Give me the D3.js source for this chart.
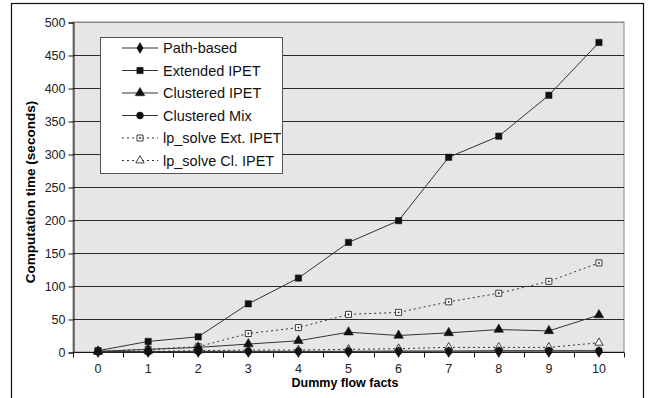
<!DOCTYPE html>
<html>
<head>
<meta charset="utf-8">
<script src="https://cdn.jsdelivr.net/npm/d3@7"></script>
<style>
	body { margin: 0; background: #fff; }
	text { font-family: "Liberation Sans", Arial, Helvetica, sans-serif; }
</style>
</head>
<body>
<svg id="chart" width="650" height="398"></svg>
<script>
// Data
const categories = ["0", "1", "2", "3", "4", "5", "6", "7", "8", "9", "10"];
const pathBased = [0, 0, 0, 0, 0, 0, 0, 0, 0, 0, 0];
const extendedIpet = [2, 16, 23, 73, 112, 166, 199, 295, 327, 389, 469];
const clusteredIpet = [1, 4, 7, 12, 17, 30, 25, 29, 34, 32, 56];
const clusteredMix = [0.5, 0.5, 1, 1, 1, 1, 1.5, 1.5, 2, 2, 2];
const lpExtIpet = [1, 4, 8, 28, 37, 57, 60, 76, 89, 107, 135];
const lpClIpet = [0.5, 1, 2, 3, 3, 4, 5, 7, 7, 7, 14];
const yTicks = [0, 50, 100, 150, 200, 250, 300, 350, 400, 450, 500];

const series = [
	{ name: "Path-based", values: pathBased, symbol: d3.symbolDiamond, size: 34, filled: true, dash: null },
	{ name: "Extended IPET", values: extendedIpet, symbol: d3.symbolSquare, size: 40, filled: true, dash: null },
	{ name: "Clustered IPET", values: clusteredIpet, symbol: d3.symbolTriangle, size: 40, filled: true, dash: null },
	{ name: "Clustered Mix", values: clusteredMix, symbol: d3.symbolCircle, size: 38, filled: true, dash: null },
	{ name: "lp_solve Ext. IPET", values: lpExtIpet, symbol: d3.symbolSquare, size: 36, filled: false, dash: "2,3" },
	{ name: "lp_solve Cl. IPET", values: lpClIpet, symbol: d3.symbolTriangle, size: 30, filled: false, dash: "2,3" },
];

const svg = d3.select("#chart");
const plot = { left: 73, right: 624, top: 22, bottom: 352 };

// Outer frame
svg.append("rect")
	.attr("x", 11.5).attr("y", 3.5)
	.attr("width", 632).attr("height", 400)
	.attr("fill", "none").attr("stroke", "#111").attr("stroke-width", 1.2);

const x = d3.scaleBand().domain(categories).range([plot.left, plot.right]);
const y = d3.scaleLinear().domain([0, 500]).range([plot.bottom, plot.top]);
const cx = (d) => x(d) + x.bandwidth() / 2;

// Plot background
svg.append("rect")
	.attr("x", plot.left).attr("y", plot.top)
	.attr("width", plot.right - plot.left).attr("height", plot.bottom - plot.top)
	.attr("fill", "#e6e6e6").attr("stroke", "#888").attr("stroke-width", 1);

// Gridlines
svg.append("g")
	.selectAll("line")
	.data(yTicks.filter((t) => t > 0))
	.enter()
	.append("line")
	.attr("x1", plot.left).attr("x2", plot.right)
	.attr("y1", (d) => Math.round(y(d)) + 0.5).attr("y2", (d) => Math.round(y(d)) + 0.5)
	.attr("stroke", (d) => (d === 500 ? "#888" : "#2a2a2a"))
	.attr("stroke-width", 1);

// Y axis
const yAxis = svg.append("g")
	.attr("transform", `translate(${plot.left + 0.5},0.5)`)
	.call(d3.axisLeft(y).tickValues(yTicks).tickSize(5).tickPadding(3));
yAxis.select(".domain").attr("stroke", "#111");
yAxis.selectAll(".tick line").attr("stroke", "#111");
yAxis.selectAll("text").style("font-size", "12.5px").attr("fill", "#222");

// X axis: labels centred in bands, ticks on band boundaries
const xAxis = svg.append("g")
	.attr("transform", `translate(0,${plot.bottom + 0.5})`);
xAxis.append("line")
	.attr("x1", plot.left).attr("x2", plot.right)
	.attr("stroke", "#111");
const boundaries = categories.map((c) => x(c)).concat([plot.right]);
xAxis.selectAll(".xtick")
	.data(boundaries)
	.enter()
	.append("line")
	.attr("class", "xtick")
	.attr("x1", (d) => Math.round(d) + 0.5).attr("x2", (d) => Math.round(d) + 0.5)
	.attr("y1", 0).attr("y2", 5)
	.attr("stroke", "#111");
xAxis.selectAll(".xlabel")
	.data(categories)
	.enter()
	.append("text")
	.attr("class", "xlabel")
	.attr("x", cx).attr("y", 20)
	.attr("text-anchor", "middle")
	.style("font-size", "12.5px").attr("fill", "#222")
	.text((d) => d);

// Axis titles
svg.append("text")
	.attr("x", 345).attr("y", 387)
	.attr("text-anchor", "middle")
	.style("font-size", "12.5px").style("font-weight", "bold")
	.text("Dummy flow facts");
svg.append("text")
	.attr("transform", `translate(35,192) rotate(-90)`)
	.attr("text-anchor", "middle")
	.style("font-size", "13.5px").style("font-weight", "bold")
	.text("Computation time (seconds)");

// Series
const line = d3.line().x((d, i) => cx(categories[i])).y((d) => y(d));
const drawOrder = [4, 5, 1, 2, 3, 0];
for (const idx of drawOrder) {
	const s = series[idx];
	const g = svg.append("g");
	g.append("path")
		.datum(s.values)
		.attr("d", line)
		.attr("fill", "none")
		.attr("stroke", "#333")
		.attr("stroke-width", 1)
		.attr("stroke-dasharray", s.dash);
	g.selectAll("path.mark")
		.data(s.values)
		.enter()
		.append("path")
		.attr("class", "mark")
		.attr("transform", (d, i) => `translate(${cx(categories[i])},${y(d)})`)
		.attr("d", d3.symbol().type(s.symbol).size(s.size))
		.attr("fill", s.filled ? "#111" : "#fff")
		.attr("stroke", "#111")
		.attr("stroke-width", s.filled ? 0.5 : 0.8);
	if (!s.filled && s.symbol === d3.symbolSquare) {
		g.selectAll("circle.dot")
			.data(s.values)
			.enter()
			.append("circle")
			.attr("cx", (d, i) => cx(categories[i]))
			.attr("cy", (d) => y(d))
			.attr("r", 0.9)
			.attr("fill", "#111");
	}
}

// Legend
const legend = svg.append("g");
legend.append("rect")
	.attr("x", 100.5).attr("y", 37.5)
	.attr("width", 182).attr("height", 136)
	.attr("fill", "#fff").attr("stroke", "#555").attr("stroke-width", 1);
series.forEach((s, i) => {
	const ly = 48 + i * 22.5;
	const row = legend.append("g").attr("transform", `translate(0,${ly})`);
	row.append("line")
		.attr("x1", 122).attr("x2", 158)
		.attr("stroke", "#333").attr("stroke-width", 1)
		.attr("stroke-dasharray", s.dash);
	row.append("path")
		.attr("transform", "translate(140,0)")
		.attr("d", d3.symbol().type(s.symbol).size(s.size))
		.attr("fill", s.filled ? "#111" : "#fff")
		.attr("stroke", "#111")
		.attr("stroke-width", s.filled ? 0.5 : 0.8);
	if (!s.filled && s.symbol === d3.symbolSquare) {
		row.append("circle").attr("cx", 140).attr("cy", 0).attr("r", 0.9).attr("fill", "#111");
	}
	row.append("text")
		.attr("x", 163).attr("y", 0).attr("dy", "0.36em")
		.style("font-size", "14.5px").attr("fill", "#111")
		.text(s.name);
});
</script>
</body>
</html>
